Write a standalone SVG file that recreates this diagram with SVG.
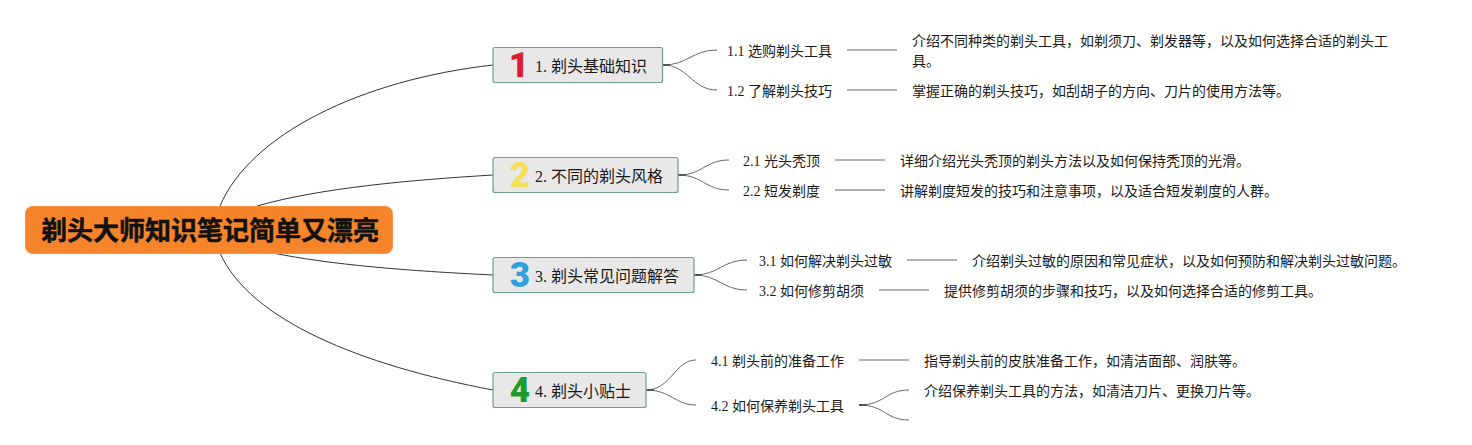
<svg xmlns="http://www.w3.org/2000/svg" width="1472" height="445" viewBox="0 0 1472 445">
<style>
text{font-family:"Liberation Serif","Noto Sans CJK SC",serif;fill:#1a1a1a}
.root{font-family:"Noto Sans CJK SC",sans-serif;font-size:26px;font-weight:700;fill:#111;stroke:#111;stroke-width:.5}
.rootbox{fill:#f5842a;stroke:#f8923c}
.box{fill:#e8e8e8;stroke:#6f9f92;stroke-width:1.2}
.l1{font-size:16px}
.l2{font-size:14px}
.ic{font-family:Roboto,sans-serif;font-size:35px;font-weight:900;font-style:normal;text-anchor:middle}
.c0{fill:none;stroke:#333;stroke-width:1}
.c{fill:none;stroke:#666;stroke-width:1}
.t{fill:none;stroke:#555;stroke-width:2}
</style>
<g id="connectors">
<path class="c0" d="M220 206C250 135 360 80 493 65"/>
<path class="c0" d="M257 206C320 188 410 180 493 175"/>
<path class="c0" d="M268 252C330 265 410 271 493 275"/>
<path class="c0" d="M220 253C250 320 360 365 493 390"/>
<path class="c" d="M663 65C688 65 692 50 717 50"/>
<path class="c" d="M663 65C688 65 692 90 717 90"/>
<path class="t" d="M663 65H670"/>
<path class="c" d="M678 175C703 175 705 160 729 160"/>
<path class="c" d="M678 175C703 175 705 190 729 190"/>
<path class="t" d="M678 175H686"/>
<path class="c" d="M694 275C719 275 722 260 747 260"/>
<path class="c" d="M694 275C719 275 722 290 747 290"/>
<path class="t" d="M694 275H702"/>
<path class="c" d="M646 390C671 390 675 360 696 360"/>
<path class="c" d="M646 390C671 390 675 405 696 405"/>
<path class="t" d="M646 390H654"/>
<path class="c" d="M847 50H897"/>
<path class="c" d="M847 90H897"/>
<path class="c" d="M835 160H885"/>
<path class="c" d="M835 190H885"/>
<path class="c" d="M907 260H957"/>
<path class="c" d="M879 290H929"/>
<path class="c" d="M859 360H909"/>
<path class="c" d="M859 405C885 405 885 390 909 390"/>
<path class="c" d="M859 405C885 405 885 420 909 420"/>
<path class="t" d="M859 405H867"/>
</g>
<g id="root"><rect class="rootbox" x="25.500" y="206.500" width="367" height="47" rx="7"/><text class="root" x="41" y="240">剃头大师知识笔记简单又漂亮</text></g>
<g id="n1"><rect class="box" x="493" y="47.500" width="169.500" height="35" rx="2"/><text class="ic" x="519" y="77" style="fill:#dc1e32">1</text><text class="l1" x="535" y="72">1. 剃头基础知识</text></g>
<g id="n2"><rect class="box" x="493" y="157.500" width="185" height="35" rx="2"/><text class="ic" x="520" y="187" style="fill:#f5de5a">2</text><text class="l1" x="535" y="182">2. 不同的剃头风格</text></g>
<g id="n3"><rect class="box" x="493" y="257.500" width="201" height="35" rx="2"/><text class="ic" x="520" y="287" style="fill:#2f9fe0">3</text><text class="l1" x="535" y="282">3. 剃头常见问题解答</text></g>
<g id="n4"><rect class="box" x="493" y="372.500" width="153" height="35" rx="2"/><text class="ic" x="520" y="402" style="fill:#1c9c2c">4</text><text class="l1" x="535" y="397">4. 剃头小贴士</text></g>
<g id="n11"><text class="l2" x="727" y="56">1.1 选购剃头工具</text></g>
<g id="n12"><text class="l2" x="727" y="96">1.2 了解剃头技巧</text></g>
<g id="n21"><text class="l2" x="743" y="166">2.1 光头秃顶</text></g>
<g id="n22"><text class="l2" x="743" y="196">2.2 短发剃度</text></g>
<g id="n31"><text class="l2" x="759" y="266">3.1 如何解决剃头过敏</text></g>
<g id="n32"><text class="l2" x="759" y="296">3.2 如何修剪胡须</text></g>
<g id="n41"><text class="l2" x="711" y="366">4.1 剃头前的准备工作</text></g>
<g id="n42"><text class="l2" x="711" y="411">4.2 如何保养剃头工具</text></g>
<g id="d11"><text class="l2" x="912" y="46">介绍不同种类的剃头工具，如剃须刀、剃发器等，以及如何选择合适的剃头工</text><text class="l2" x="912" y="66">具。</text></g>
<g id="d12"><text class="l2" x="912" y="96">掌握正确的剃头技巧，如刮胡子的方向、刀片的使用方法等。</text></g>
<g id="d21"><text class="l2" x="900" y="166">详细介绍光头秃顶的剃头方法以及如何保持秃顶的光滑。</text></g>
<g id="d22"><text class="l2" x="900" y="196">讲解剃度短发的技巧和注意事项，以及适合短发剃度的人群。</text></g>
<g id="d31"><text class="l2" x="972" y="266">介绍剃头过敏的原因和常见症状，以及如何预防和解决剃头过敏问题。</text></g>
<g id="d32"><text class="l2" x="944" y="296">提供修剪胡须的步骤和技巧，以及如何选择合适的修剪工具。</text></g>
<g id="d41"><text class="l2" x="924" y="366">指导剃头前的皮肤准备工作，如清洁面部、润肤等。</text></g>
<g id="d42"><text class="l2" x="924" y="396">介绍保养剃头工具的方法，如清洁刀片、更换刀片等。</text></g>
</svg>
